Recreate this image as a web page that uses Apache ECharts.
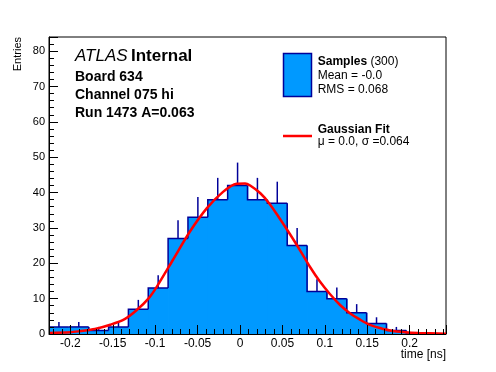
<!DOCTYPE html>
<html><head><meta charset="utf-8">
<script src="https://cdn.jsdelivr.net/npm/echarts@6/dist/echarts.min.js"></script>
<style>html,body{margin:0;padding:0;background:#fff}#c{width:496px;height:372px}</style>
</head><body><div id="c"></div>
<script>
// ---- data ----
const histMin = -0.2252;   // histogram / axis range (ns)
const histMax = 0.2429;
const counts = [2, 2, 1, 2, 7, 13, 27, 33, 38, 42, 38, 37, 25, 12, 10, 6, 3, 1, 0, 0];
const errors = [1.41, 1.41, 1, 1.41, 2.65, 3.61, 5.2, 5.74, 6.16, 6.48, 6.16, 6.08, 5, 3.46, 3.16, 2.45, 1.73, 1, 0, 0];
const fitX = [-0.225, -0.2, -0.189, -0.171, -0.153, -0.136, -0.122, -0.108, -0.098, -0.079, -0.059, -0.039, -0.020, -0.004, 0.006, 0.012, 0.024, 0.035, 0.047, 0.059, 0.071, 0.083, 0.094, 0.106, 0.118, 0.130, 0.142, 0.153, 0.165, 0.177, 0.195, 0.210, 0.243];
const fitY = [0.3, 0.5, 0.8, 1.4, 2.6, 4.2, 6.7, 10.0, 13.4, 21.0, 29.0, 35.6, 40.2, 42.5, 42.6, 42.0, 39.8, 36.8, 32.6, 28.2, 23.6, 18.8, 14.9, 11.3, 8.2, 5.8, 4.0, 2.6, 1.7, 1.0, 0.5, 0.3, 0.1];
const yMax = 84;
const xTickStep = 0.05;
const yTickStep = 10;
const labelLines = ['Board 634', 'Channel 075 hi', 'Run 1473 A=0.063'];
const legendSamples = ['Mean = -0.0', 'RMS = 0.068'];
const legendFit = '\u03bc = 0.0, \u03c3 =0.064';
const nSamples = 300;

const FILL = '#0099ff', EDGE = '#000099', FONT = 'Liberation Sans, Arial, Helvetica, sans-serif';
const binW = (histMax - histMin) / counts.length;
const histData = counts.map((n, i) => [histMin + i * binW, histMin + (i + 1) * binW, n, i > 0 ? counts[i - 1] : 0, errors[i], i === counts.length - 1 ? 1 : 0]);
const fitData = fitX.map((x, i) => [x, fitY[i]]);

const chart = echarts.init(document.getElementById('c'), null, {renderer: 'canvas'});
const fmtX = v => Math.abs(v / xTickStep - Math.round(v / xTickStep)) < 1e-6 ? String(Math.round(v * 100) / 100) : '';
const fmtY = v => Math.abs(v / yTickStep - Math.round(v / yTickStep)) < 1e-6 ? String(Math.round(v)) : '';

chart.setOption({
  animation: false,
  backgroundColor: '#fff',
  grid: {left: 49, right: 50, top: 37, bottom: 38, show: true, borderColor: '#000', borderWidth: 1, backgroundColor: 'transparent'},
  xAxis: {
    type: 'value', min: histMin, max: histMax, splitNumber: 9, minInterval: xTickStep, maxInterval: xTickStep, z: 10,
    axisLine: {show: true, onZero: false, lineStyle: {color: '#000', width: 1}},
    axisTick: {show: true, inside: true, length: 9, lineStyle: {color: '#000', width: 1}},
    minorTick: {show: true, splitNumber: 5, length: 5, lineStyle: {color: '#000', width: 1}},
    splitLine: {show: false}, minorSplitLine: {show: false},
    axisLabel: {color: '#000', fontSize: 12, fontFamily: FONT, margin: 4, formatter: fmtX, showMinLabel: false, showMaxLabel: false}
  },
  yAxis: {
    type: 'value', min: 0, max: yMax, interval: yTickStep, z: 10,
    axisLine: {show: true, onZero: false, lineStyle: {color: '#000', width: 1}},
    axisTick: {show: true, inside: true, length: 9, lineStyle: {color: '#000', width: 1}},
    minorTick: {show: true, splitNumber: 5, length: 5, lineStyle: {color: '#000', width: 1}},
    splitLine: {show: false}, minorSplitLine: {show: false},
    axisLabel: {color: '#000', fontSize: 11, fontFamily: FONT, margin: 4, formatter: fmtY, showMaxLabel: false}
  },
  series: [
    {
      type: 'custom', clip: true, z: 2,
      data: histData,
      encode: {x: [0, 1], y: 2},
      renderItem: function (params, api) {
        const lo = api.value(0), hi = api.value(1), n = api.value(2), prev = api.value(3), err = api.value(4), last = api.value(5);
        const a0 = api.coord([lo, 0]), aN = api.coord([lo, n]), bN = api.coord([hi, n]), aP = api.coord([lo, prev]), b0 = api.coord([hi, 0]);
        const children = [];
        if (n > 0) {
          const extra = last ? 0 : 0.8;
          children.push({type: 'rect', shape: {x: a0[0], y: aN[1], width: bN[0] - a0[0] + extra, height: a0[1] - aN[1]}, style: {fill: FILL}});
        }
        const pts = [aP, aN, bN];
        if (last) pts.push(b0);
        children.push({type: 'polyline', z2: 5, shape: {points: pts}, style: {stroke: EDGE, lineWidth: 1.5, fill: null}});
        if (err > 0) {
          const c = (lo + hi) / 2;
          const e0 = api.coord([c, n]), e1 = api.coord([c, n + err]);
          children.push({type: 'line', z2: 5, shape: {x1: e0[0], y1: e0[1], x2: e1[0], y2: e1[1]}, style: {stroke: EDGE, lineWidth: 1.5}});
        }
        return {type: 'group', children: children};
      }
    },
    {
      type: 'line', data: fitData, smooth: 0.3, showSymbol: false, z: 5, clip: true,
      lineStyle: {color: '#ff0000', width: 2.5}
    }
  ],
  graphic: [
    {type: 'text', left: 75, top: 48, style: {text: '{a|ATLAS} {b|Internal}', rich: {a: {fontSize: 17, fontStyle: 'italic', fontFamily: FONT, fill: '#000'}, b: {fontSize: 17, fontWeight: 'bold', fontFamily: FONT, fill: '#000'}}}},
    {type: 'text', x: 75, y: 76.7, style: {text: labelLines[0], font: 'bold 14px ' + FONT, fill: '#000', verticalAlign: 'middle'}},
    {type: 'text', x: 75, y: 95, style: {text: labelLines[1], font: 'bold 14px ' + FONT, fill: '#000', verticalAlign: 'middle'}},
    {type: 'text', x: 75, y: 113.3, style: {text: labelLines[2], font: 'bold 14px ' + FONT, fill: '#000', verticalAlign: 'middle'}},
    {type: 'rect', shape: {x: 283.5, y: 53.5, width: 28, height: 43}, style: {fill: FILL, stroke: EDGE, lineWidth: 1.5}},
    {type: 'text', x: 317.7, y: 61.7, style: {text: '{b|Samples} {r|(' + nSamples + ')}', verticalAlign: 'middle', rich: {b: {fontSize: 12, fontWeight: 'bold', fontFamily: FONT, fill: '#000'}, r: {fontSize: 12, fontFamily: FONT, fill: '#000'}}}},
    {type: 'text', x: 317.7, y: 76, style: {text: legendSamples[0], font: '12px ' + FONT, fill: '#000', verticalAlign: 'middle'}},
    {type: 'text', x: 317.7, y: 90, style: {text: legendSamples[1], font: '12px ' + FONT, fill: '#000', verticalAlign: 'middle'}},
    {type: 'line', shape: {x1: 283, y1: 136, x2: 312, y2: 136}, style: {stroke: '#ff0000', lineWidth: 2.5}},
    {type: 'text', x: 317.7, y: 129.3, style: {text: 'Gaussian Fit', font: 'bold 12px ' + FONT, fill: '#000', verticalAlign: 'middle'}},
    {type: 'text', x: 317.7, y: 142, style: {text: legendFit, font: '12px ' + FONT, fill: '#000', verticalAlign: 'middle'}},
    {type: 'text', x: 446, y: 355, style: {text: 'time [ns]', font: '12px ' + FONT, fill: '#000', align: 'right', verticalAlign: 'middle'}},
    {type: 'text', x: 18, y: 37, rotation: Math.PI / 2, style: {text: 'Entries', font: '11px ' + FONT, fill: '#000', align: 'right', verticalAlign: 'middle'}}
  ]
});
</script>
</body></html>
